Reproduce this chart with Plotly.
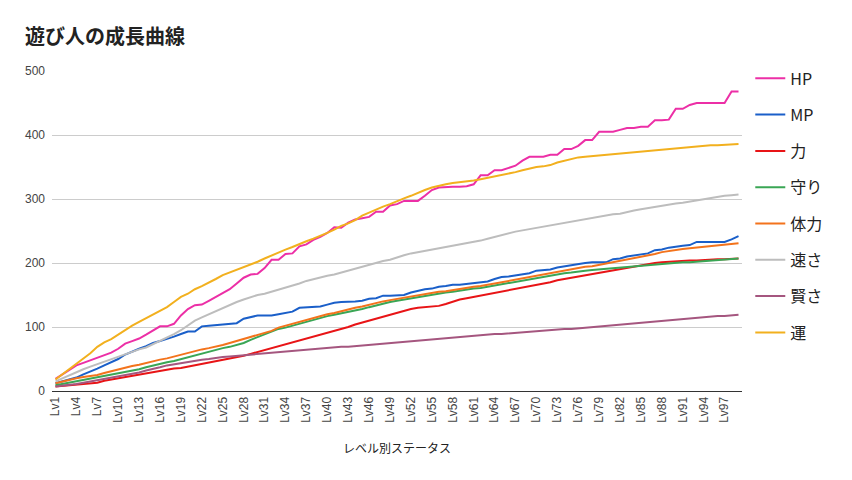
import plotly.graph_objects as go

levels = [f"Lv{i}" for i in range(1, 100)]
tick_labels = levels[::3]

hp = [19, 26, 33, 40, 44, 48, 53, 57, 60, 66, 74, 78, 82, 88, 95, 101, 101, 105, 118, 128,
      134, 135, 141, 147, 152, 159, 168, 177, 182, 183, 192, 205, 205, 214, 215, 226, 229, 236, 241, 247,
      256, 255, 263, 268, 270, 272, 280, 280, 290, 292, 297, 297, 297, 305, 314, 318, 319, 319, 319, 320,
      323, 337, 337, 345, 345, 348, 352, 360, 366, 366, 366, 369, 369, 378, 378, 383, 392, 392, 405, 405,
      405, 408, 411, 411, 413, 413, 423, 423, 424, 441, 441, 447, 450, 450, 450, 450, 450, 468, 468]
mp = [12, 15, 18, 21, 26, 30, 35, 40, 45, 50, 57, 62, 66, 70, 75, 78, 81, 85, 89, 93,
      93, 101, 102, 103, 104, 105, 106, 113, 115, 118, 118, 118, 120, 122, 124, 130, 131, 132, 132, 135,
      138, 139, 139, 140, 141, 144, 145, 149, 149, 149, 150, 154, 157, 159, 160, 163, 164, 166, 166, 167,
      168, 169, 171, 175, 178, 179, 181, 182, 184, 188, 189, 190, 193, 195, 196, 198, 200, 201, 201, 201,
      206, 207, 210, 212, 213, 215, 220, 221, 224, 226, 227, 228, 233, 233, 233, 233, 233, 237, 242]
power = [7, 8, 9, 9, 10, 11, 13, 16, 18, 20, 22, 23, 25, 27, 29, 31, 33, 35, 36, 38,
         40, 42, 44, 46, 48, 50, 53, 55, 58, 61, 63, 66, 69, 72, 75, 79, 82, 85, 88, 91,
         94, 97, 100, 104, 107, 110, 114, 117, 120, 123, 125, 128, 130, 131, 132, 133, 136, 140, 143, 145,
         147, 149, 151, 153, 155, 157, 159, 161, 163, 165, 168, 170, 173, 175, 177, 179, 181, 183, 185, 187,
         189, 191, 193, 195, 197, 198, 200, 201, 202, 203, 203, 204, 204, 205, 205, 206, 206, 207, 207]
defense = [9, 11, 14, 16, 18, 20, 21, 23, 25, 28, 30, 32, 34, 37, 40, 42, 45, 47, 50, 53,
           56, 59, 62, 64, 67, 69, 72, 75, 80, 84, 88, 92, 97, 99, 102, 106, 109, 112, 115, 117,
           119, 121, 123, 126, 128, 131, 134, 137, 139, 141, 143, 145, 147, 149, 150, 152, 154, 155, 157, 158,
           160, 161, 163, 165, 167, 168, 170, 172, 174, 176, 178, 180, 182, 184, 185, 187, 188, 189, 190, 190,
           191, 192, 193, 194, 195, 196, 197, 198, 199, 200, 201, 201, 202, 203, 204, 205, 205, 206, 207]
stamina = [12, 15, 18, 20, 22, 23, 25, 28, 31, 34, 37, 39, 41, 44, 47, 49, 51, 54, 57, 60,
           63, 65, 67, 69, 72, 75, 78, 81, 85, 88, 91, 94, 99, 102, 105, 109, 112, 115, 118, 120,
           122, 125, 127, 130, 132, 135, 138, 140, 142, 144, 146, 148, 150, 152, 153, 155, 156, 158, 159, 161,
           163, 164, 166, 168, 170, 172, 174, 177, 179, 181, 183, 185, 187, 188, 190, 192, 194, 195, 197, 200,
           202, 204, 206, 208, 210, 212, 214, 217, 219, 221, 222, 223, 224, 225, 226, 227, 229, 230, 231]
speed = [15, 20, 25, 30, 34, 38, 42, 46, 50, 54, 58, 61, 65, 68, 73, 78, 83, 89, 95, 103,
         110, 115, 120, 125, 130, 134, 139, 143, 147, 150, 152, 155, 158, 161, 164, 168, 172, 175, 177, 180,
         182, 185, 188, 192, 195, 198, 201, 203, 205, 209, 212, 215, 217, 219, 221, 223, 225, 226, 228, 230,
         233, 235, 238, 241, 244, 246, 249, 251, 253, 255, 256, 258, 260, 262, 264, 267, 269, 270, 272, 274,
         276, 277, 280, 282, 284, 286, 287, 289, 291, 293, 294, 296, 298, 300, 302, 303, 305, 306, 307]
wisdom = [7, 8, 10, 11, 13, 15, 16, 18, 20, 22, 24, 26, 29, 32, 34, 37, 40, 42, 44, 46,
          47, 49, 50, 52, 53, 54, 55, 56, 57, 58, 59, 60, 61, 62, 63, 64, 65, 66, 66, 67,
          68, 69, 69, 70, 71, 72, 73, 74, 75, 76, 77, 78, 79, 80, 81, 82, 83, 84, 85, 85,
          86, 87, 88, 89, 89, 90, 91, 91, 92, 93, 94, 95, 96, 97, 97, 98, 99, 100, 101, 102,
          103, 104, 105, 106, 107, 108, 109, 110, 111, 112, 113, 114, 114, 115, 116, 117, 117, 118, 119]
luck = [18, 26, 35, 43, 51, 59, 69, 76, 81, 88, 96, 102, 108, 114, 120, 125, 131, 139, 147, 152,
        159, 164, 169, 175, 181, 185, 189, 194, 197, 202, 207, 212, 216, 221, 225, 230, 234, 238, 242, 247,
        252, 258, 262, 267, 274, 279, 283, 288, 292, 297, 301, 305, 310, 314, 318, 321, 323, 325, 326, 327,
        329, 331, 333, 335, 338, 340, 342, 345, 348, 350, 351, 353, 357, 360, 362, 365, 366, 367, 368, 369,
        371, 372, 373, 374, 375, 376, 377, 378, 379, 379, 380, 381, 382, 383, 384, 384, 385, 385, 386]

series_names = ["HP", "MP", "力", "守り", "体力", "速さ", "賢さ", "運"]
series_values = [hp, mp, power, defense, stamina, speed, wisdom, luck]
series_colors = ["#ec2fa6", "#1a5fc9", "#e81416", "#3aa655", "#f3731c", "#bdbdbd", "#a5567f", "#f2b01e"]

fig = go.Figure()
for name, vals, col in zip(series_names, series_values, series_colors):
    fig.add_trace(go.Scatter(x=levels, y=vals, mode="lines", name=name,
                             legendgroup=name,
                             line=dict(color=col, width=2)))

font_family = "Liberation Sans, Arial, Noto Sans CJK JP, sans-serif"

# page body has an 8px margin, so the figure is sized 844x472
W, H = 844, 472
fig.update_layout(
    width=W, height=H,
    margin=dict(l=44, r=110, t=63, b=89),
    paper_bgcolor="white", plot_bgcolor="white",
    font=dict(family=font_family, color="#333333"),
    title=dict(text="<b>遊び人の成長曲線</b>", x=17/W, xref="container", xanchor="left",
               y=1 - 29/H, yref="container", yanchor="middle",
               font=dict(size=20, color="#222222", family="Noto Sans CJK JP, sans-serif")),
    showlegend=True,
    legend=dict(x=1.012, xanchor="left", y=1.03, yanchor="top", maxheight=420,
                font=dict(size=16, color="#222222", family="Noto Sans CJK JP, Liberation Sans, sans-serif"),
                tracegroupgap=12.5, traceorder="grouped", bgcolor="rgba(0,0,0,0)"),
    xaxis=dict(type="category", range=[-0.5, 98.5], tickmode="array", tickvals=tick_labels,
               ticktext=tick_labels, tickangle=-90, tickfont=dict(size=12, color="#444444"),
               showgrid=False, showline=True, linecolor="#333333", linewidth=1, ticks="",
               title=dict(text="レベル別ステータス", font=dict(size=12, color="#222222",
                          family="Noto Sans CJK JP, sans-serif"), standoff=22),
               zeroline=False),
    yaxis=dict(range=[0, 500], tickvals=[0, 100, 200, 300, 400, 500], showgrid=True,
               gridcolor="#cccccc", gridwidth=1, zeroline=False, showline=False, ticks="",
               ticklabelstandoff=6,
               tickfont=dict(size=12, color="#444444")),
)

fig.write_html("out.html")
